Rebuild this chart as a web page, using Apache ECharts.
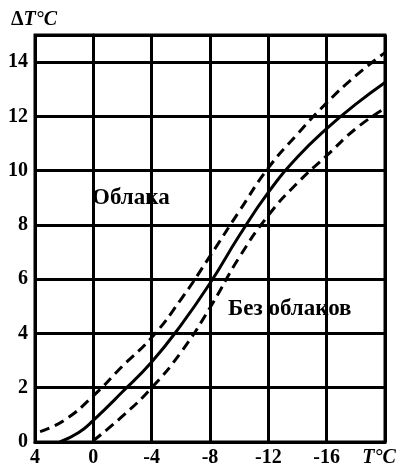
<!DOCTYPE html>
<html>
<head>
<meta charset="utf-8">
<script src="https://cdn.jsdelivr.net/npm/echarts@6/dist/echarts.min.js"></script>
<style>
  html, body { margin: 0; padding: 0; background: #fff; }
  #chart { width: 403px; height: 467px; }
</style>
</head>
<body>
<div id="chart"></div>
<script>
// Air temperature T (°C) on the horizontal axis, warming ΔT (°C) on the vertical axis
const xTicks = [4, 0, -4, -8, -12, -16, -20];
const yTicks = [0, 2, 4, 6, 8, 10, 12, 14];

// Mean curve (solid)
const meanT  = [2.3, 1, 0, -2, -4, -6, -8, -10, -12, -14, -16, -18, -20];
const meanDT = [0, 0.35, 0.8, 1.85, 2.95, 4.3, 5.85, 7.6, 9.2, 10.5, 11.55, 12.45, 13.25];

// Upper bound (dashed) – cloudy conditions
const cloudT  = [3.65, 2, 0, -2, -4, -6, -8, -10, -12, -14, -16, -18, -20];
const cloudDT = [0.38, 0.8, 1.7, 2.8, 3.85, 5.25, 6.85, 8.5, 10.1, 11.35, 12.5, 13.5, 14.35];

// Lower bound (dashed) – clear sky
const clearT  = [0, -2, -4, -6, -8, -10, -12, -14, -16, -18, -20];
const clearDT = [0.05, 0.95, 2.0, 3.3, 4.95, 6.8, 8.35, 9.55, 10.55, 11.55, 12.3];

const zip = (xs, ys) => xs.map((x, i) => [x, ys[i]]);
const FONT = '"Liberation Serif", "DejaVu Serif", serif';
const INK = '#000';

const chart = echarts.init(document.getElementById('chart'), null, { renderer: 'canvas' });

const lineSeries = (name, data, dashed) => ({
  name,
  type: 'line',
  data,
  smooth: 0.5,
  showSymbol: false,
  clip: true,
  lineStyle: { color: INK, width: 3, type: dashed ? [10, 6] : 'solid', cap: 'butt' },
  silent: true
});

chart.setOption({
  animation: false,
  backgroundColor: '#fff',
  grid: {
    left: 35, right: 18, top: 35, bottom: 25,
    show: true, borderColor: INK, borderWidth: 3, backgroundColor: 'transparent',
    outerBoundsMode: 'none'
  },
  xAxis: {
    type: 'value',
    min: -20, max: 4, interval: 4, inverse: true,
    axisLine: { show: true, lineStyle: { color: INK, width: 3 } },
    axisTick: { show: false },
    splitLine: { show: true, lineStyle: { color: INK, width: 3 } },
    axisLabel: {
      margin: 6,
      color: INK,
      fontFamily: FONT, fontWeight: 'bold', fontSize: 20,
      formatter: v => v === -20 ? '{u|T°C}' : (xTicks.includes(v) ? String(v) : ''),
      rich: { u: { fontFamily: FONT, fontWeight: 'bold', fontStyle: 'italic', fontSize: 20, color: INK, padding: [0, 12, 0, 0] } }
    }
  },
  yAxis: {
    type: 'value',
    min: 0, max: 15, interval: 2,
    axisLine: { show: true, lineStyle: { color: INK, width: 3 } },
    axisTick: { show: false },
    splitLine: { show: true, lineStyle: { color: INK, width: 3 } },
    axisLabel: {
      margin: 7,
      color: INK,
      fontFamily: FONT, fontWeight: 'bold', fontSize: 20,
      formatter: v => yTicks.includes(v) ? String(v) : ''
    }
  },
  graphic: [
    {
      type: 'text', left: 11, top: 10,
      style: {
        text: '{d|Δ}{t|T°C}',
        rich: {
          d: { font: 'bold 20px ' + FONT, fill: INK },
          t: { font: 'italic bold 20px ' + FONT, fill: INK }
        }
      }
    },
    {
      type: 'text', left: 92, top: 187,
      style: { text: 'Облака', font: 'bold 23px ' + FONT, fill: INK }
    },
    {
      type: 'text', left: 228, top: 298,
      style: { text: 'Без облаков', font: 'bold 23px ' + FONT, fill: INK }
    }
  ],
  series: [
    lineSeries('Облака', zip(cloudT, cloudDT), true),
    lineSeries('Среднее', zip(meanT, meanDT), false),
    lineSeries('Без облаков', zip(clearT, clearDT), true)
  ]
});
</script>
</body>
</html>
